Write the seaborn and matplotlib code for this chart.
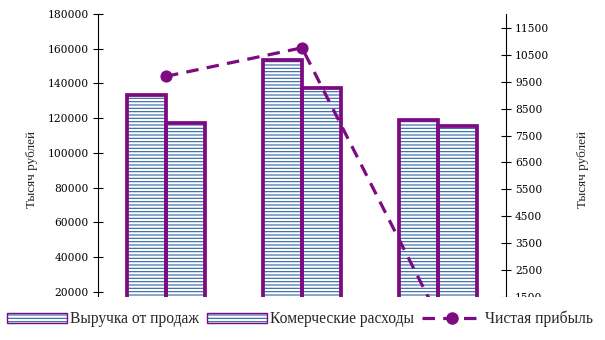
import numpy as np
import pandas as pd
import matplotlib
matplotlib.use("Agg")
import matplotlib.pyplot as plt
import seaborn as sns
from matplotlib.patches import Patch
from matplotlib.lines import Line2D
from matplotlib.legend_handler import HandlerTuple

# --- data -------------------------------------------------------------
periods = ["I", "II", "III"]
revenue = [133200, 153800, 119100]          # Выручка от продаж
expenses = [117200, 137500, 115700]         # Комерческие расходы
net_profit = [9700, 10760, 780]             # Чистая прибыль
series_names = ["Выручка от продаж", "Комерческие расходы", "Чистая прибыль"]
left_ticks = [20000, 40000, 60000, 80000, 100000, 120000, 140000, 160000, 180000]
right_ticks = [1500, 2500, 3500, 4500, 5500, 6500, 7500, 8500, 9500, 10500, 11500]
axis_title = "Тысяч рублей"

PURPLE = "#7E0A82"
BLUE = "#2F63A6"

sns.set_theme(style="white")
plt.rcParams["font.family"] = ["DejaVu Serif"]
plt.rcParams["hatch.linewidth"] = 0.8

df = pd.DataFrame({
    "period": periods * 2,
    "series": [series_names[0]] * 3 + [series_names[1]] * 3,
    "value": revenue + expenses,
})

fig = plt.figure(figsize=(6.05, 3.4), dpi=100)
fig.subplots_adjust(left=98 / 605, right=506 / 605,
                    bottom=(340 - 297) / 340, top=(340 - 14) / 340)
ax = fig.add_subplot(111)

# hatched fill of the bars
sns.barplot(data=df, x="period", y="value", hue="series",
            palette=["white", "white"], width=0.58, gap=0,
            edgecolor=BLUE, linewidth=0, hatch="-----",
            legend=False, ax=ax, zorder=2)
# thick purple outlines on top
sns.barplot(data=df, x="period", y="value", hue="series",
            palette=[PURPLE, PURPLE], width=0.58, gap=0, fill=False,
            linewidth=2.7, legend=False, ax=ax, zorder=3)

ax.set_xlim(-0.5, 2.5)
ax.set_ylim(17100, 180000)
ax.set_yticks(left_ticks)
ax.set_yticklabels([str(v) for v in left_ticks])
ax.set_xticks([])
ax.set_xlabel("")
ax.set_ylabel(axis_title, family=["Liberation Serif"], fontsize=9.5)
ax.yaxis.set_label_coords(-0.147, 0.449)
for side in ("top", "bottom", "right"):
    ax.spines[side].set_visible(False)
ax.spines["left"].set_color("black")
ax.spines["left"].set_linewidth(0.8)
ax.tick_params(axis="y", direction="inout", length=7, width=0.8,
               labelsize=7.7, pad=3, colors="black", left=True)

# net profit on the secondary axis
ax2 = ax.twinx()
x_pos = np.arange(len(periods))
sns.lineplot(x=x_pos, y=net_profit, ax=ax2, color=PURPLE, linewidth=2.3,
             linestyle=(0, (3.9, 2.6)), marker="o", markersize=8,
             markeredgecolor=PURPLE, markerfacecolor=PURPLE, zorder=4)
ax2.set_ylim(1600, 12016)
ax2.set_yticks(right_ticks)
ax2.set_yticklabels([str(v) for v in right_ticks])
ax2.set_ylabel(axis_title, family=["Liberation Serif"], fontsize=9.5)
ax2.yaxis.set_label_coords(1.174, 0.449)
for side in ("top", "bottom", "left"):
    ax2.spines[side].set_visible(False)
ax2.spines["right"].set_color("black")
ax2.spines["right"].set_linewidth(0.8)
ax2.tick_params(axis="y", direction="inout", length=7, width=0.8,
                labelsize=7.7, pad=3, colors="black", right=True)
ax2.set_xlim(-0.5, 2.5)
ax2.set_xticks([])

# legend below the plot
def bar_handle():
    fill = Patch(facecolor="white", edgecolor=BLUE, linewidth=0, hatch="-----")
    frame = Patch(facecolor="none", edgecolor=PURPLE, linewidth=1.0)
    return (fill, frame)

line_handle = Line2D([], [], color=PURPLE, linewidth=2.3,
                     linestyle=(0, (3.9, 2.6)), marker="o", markersize=8)
leg = fig.legend([bar_handle(), bar_handle(), line_handle], series_names,
                 handler_map={tuple: HandlerTuple(ndivide=1)},
                 loc="center", bbox_to_anchor=(0.496, 0.062), ncol=3,
                 frameon=True, facecolor="white", edgecolor="none",
                 framealpha=1, fancybox=False,
                 prop={"family": ["Liberation Serif"], "size": 11.2},
                 handlelength=3.85, handleheight=0.6, handletextpad=0.2,
                 columnspacing=0.5, borderpad=0.85)

fig.savefig("out.png", dpi=100)
